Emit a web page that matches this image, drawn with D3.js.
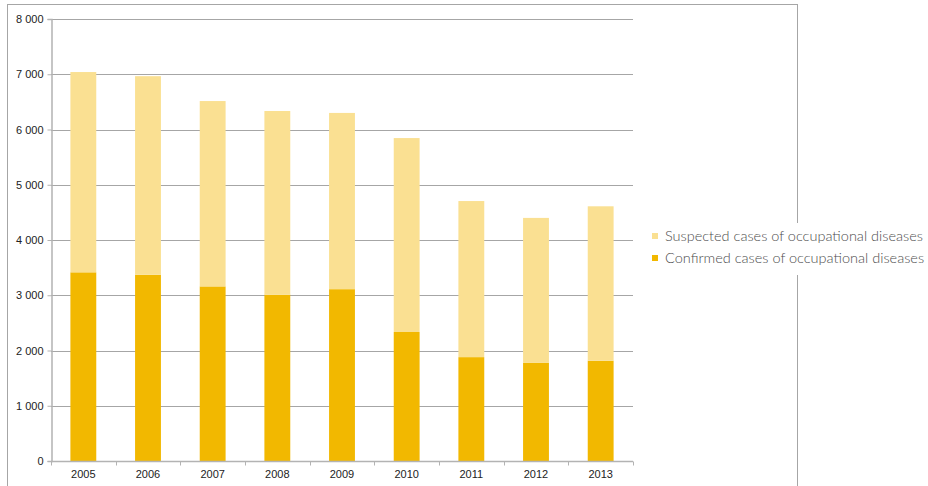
<!DOCTYPE html>
<html>
<head>
<meta charset="utf-8">
<script src="https://cdn.jsdelivr.net/npm/d3@7"></script>
<style>
  html, body { margin: 0; padding: 0; background: #fff; }
  svg { display: block; }
</style>
</head>
<body>
<svg id="chart" width="928" height="486"></svg>
<script>
// Occupational diseases per year: confirmed cases and suspected cases (stacked)
const years = ["2005", "2006", "2007", "2008", "2009", "2010", "2011", "2012", "2013"];
const confirmed = [3415, 3370, 3160, 3010, 3110, 2335, 1880, 1775, 1815];
const suspected = [3625, 3595, 3355, 3325, 3190, 3510, 2825, 2625, 2795];
const yTicks = [0, 1000, 2000, 3000, 4000, 5000, 6000, 7000, 8000];
const seriesNames = ["Suspected cases of occupational diseases", "Confirmed cases of occupational diseases"];
const seriesColors = { confirmed: "#f2b800", suspected: "#fae092" };

const svg = d3.select("#chart");
const margin = { left: 51, right: 633, top: 19, bottom: 461 };

// Outer frame
svg.append("rect")
  .attr("x", 7.5).attr("y", 4.5)
  .attr("width", 790).attr("height", 500)
  .attr("fill", "none").attr("stroke", "#a6a6a6").attr("stroke-width", 1);

const x = d3.scaleBand().domain(years).range([margin.left, margin.right]).paddingInner(0.6).paddingOuter(0.3);
const y = d3.scaleLinear().domain([0, 8000]).range([margin.bottom, margin.top]);

// Horizontal gridlines
svg.append("g").selectAll("line")
  .data(yTicks.filter(d => d > 0))
  .join("line")
  .attr("x1", margin.left).attr("x2", margin.right)
  .attr("y1", d => Math.round(y(d)) + 0.5).attr("y2", d => Math.round(y(d)) + 0.5)
  .attr("stroke", "#a6a6a6").attr("stroke-width", 1.2);

// Stacked bars
const rows = years.map((yr, i) => ({ year: yr, confirmed: confirmed[i], suspected: suspected[i] }));
const stack = d3.stack().keys(["confirmed", "suspected"])(rows);

svg.append("g").selectAll("g")
  .data(stack)
  .join("g")
  .attr("fill", d => seriesColors[d.key])
  .selectAll("rect")
  .data(d => d)
  .join("rect")
  .attr("x", d => x(d.data.year))
  .attr("width", x.bandwidth())
  .attr("y", d => y(d[1]))
  .attr("height", d => y(d[0]) - y(d[1]));

// Y axis
const yAxis = d3.axisLeft(y)
  .tickValues(yTicks)
  .tickSize(4)
  .tickPadding(4)
  .tickFormat(d => d3.format(",")(d).replace(/,/g, " "));
const gy = svg.append("g").attr("transform", `translate(${margin.left + 0.5},0)`).call(yAxis);
gy.select(".domain").attr("stroke", "#b3b3b3").attr("stroke-width", 1.5);
gy.selectAll(".tick line").attr("stroke", "#b3b3b3");
gy.selectAll(".tick text")
  .attr("font-family", "Liberation Sans, Arial, sans-serif")
  .attr("font-size", 11).attr("fill", "#222");

// X axis with ticks between categories
const gx = svg.append("g").attr("transform", `translate(0,${margin.bottom + 0.5})`);
gx.append("line")
  .attr("x1", margin.left).attr("x2", margin.right)
  .attr("stroke", "#b3b3b3").attr("stroke-width", 1.5);
const step = x.step();
const boundaries = d3.range(years.length + 1).map(i => margin.left + i * (margin.right - margin.left) / years.length);
gx.selectAll("line.sep")
  .data(boundaries)
  .join("line")
  .attr("class", "sep")
  .attr("x1", d => Math.round(d) + 0.5).attr("x2", d => Math.round(d) + 0.5)
  .attr("y1", 0).attr("y2", 4)
  .attr("stroke", "#b3b3b3");
gx.selectAll("text")
  .data(years)
  .join("text")
  .attr("x", d => x(d) + x.bandwidth() / 2)
  .attr("y", 16)
  .attr("text-anchor", "middle")
  .attr("font-family", "Liberation Sans, Arial, sans-serif")
  .attr("font-size", 11).attr("fill", "#222")
  .text(d => d);

// Legend
const legend = svg.append("g");
legend.append("rect")
  .attr("x", 645).attr("y", 223).attr("width", 283).attr("height", 52)
  .attr("fill", "#fff");
const legendItems = [
  { name: seriesNames[0], color: seriesColors.suspected, cy: 236 },
  { name: seriesNames[1], color: seriesColors.confirmed, cy: 258 }
];
legend.selectAll("rect.sw")
  .data(legendItems)
  .join("rect")
  .attr("class", "sw")
  .attr("x", 652).attr("y", d => d.cy - 3)
  .attr("width", 6).attr("height", 6)
  .attr("fill", d => d.color);
legend.selectAll("text")
  .data(legendItems)
  .join("text")
  .attr("x", 665)
  .attr("y", d => d.cy + 5)
  .attr("font-family", "Lato, 'Open Sans', sans-serif")
  .attr("font-weight", 300)
  .attr("font-size", 14.5)
  .attr("fill", "#4d4d4d")
  .text(d => d.name);
</script>
</body>
</html>
